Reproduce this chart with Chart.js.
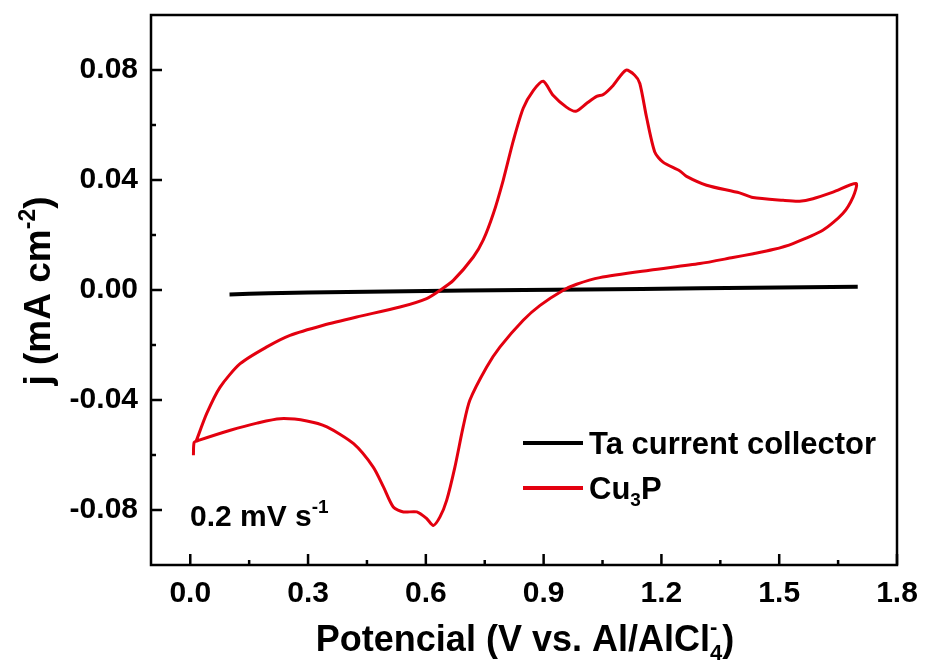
<!DOCTYPE html>
<html>
<head>
<meta charset="utf-8">
<script src="https://cdn.jsdelivr.net/npm/chart.js@4.4.1/dist/chart.umd.min.js"></script>
<style>
  html, body { margin: 0; background: #fff; }
  #wrap { width: 925px; height: 666px; }
</style>
</head>
<body>
<div id="wrap"><canvas id="cv" width="925" height="666"></canvas></div>
<script>
// Cu3P cyclic voltammogram (anodic sweep then cathodic sweep)
const cu3pV = [
  0.015, 0.042, 0.076, 0.127, 0.195, 0.254, 0.339, 0.424, 0.534, 0.602, 0.636, 0.670,
  0.721, 0.746, 0.772, 0.797, 0.823, 0.848, 0.874, 0.899, 0.924, 0.958, 0.982, 1.009,
  1.035, 1.052, 1.077, 1.109, 1.132, 1.145, 1.162, 1.183, 1.204, 1.247, 1.264, 1.315,
  1.399, 1.433, 1.510, 1.552, 1.586, 1.637, 1.696,
  1.688, 1.662, 1.611, 1.535, 1.484, 1.434, 1.382, 1.298, 1.170, 1.043, 0.984, 0.950,
  0.891, 0.848, 0.789, 0.755, 0.712, 0.695, 0.674, 0.653, 0.636, 0.619, 0.602, 0.577,
  0.543, 0.517, 0.492, 0.466, 0.416, 0.348, 0.297, 0.229, 0.170, 0.102, 0.021, 0.010, 0.008
];
const cu3pJ = [
  -0.0550, -0.0449, -0.0353, -0.0268, -0.0207, -0.0165, -0.0128, -0.0098, -0.0062, -0.0031, -0.0001, 0.0035,
  0.0120, 0.0181, 0.0278, 0.0399, 0.0544, 0.0661, 0.0726, 0.0759, 0.0708, 0.0665, 0.0650, 0.0678,
  0.0704, 0.0711, 0.0744, 0.0799, 0.0781, 0.0751, 0.0629, 0.0502, 0.0465, 0.0433, 0.0413, 0.0381,
  0.0353, 0.0336, 0.0326, 0.0323, 0.0332, 0.0356, 0.0387,
  0.0338, 0.0278, 0.0217, 0.0169, 0.0147, 0.0132, 0.0118, 0.0096, 0.0072, 0.0045, 0.0021, -0.0001,
  -0.0056, -0.0110, -0.0207, -0.0280, -0.0401, -0.0498, -0.0644, -0.0765, -0.0825, -0.0856, -0.0831, -0.0807,
  -0.0807, -0.0789, -0.0716, -0.0644, -0.0559, -0.0498, -0.0476, -0.0468, -0.0484, -0.0510, -0.0547, -0.0554, -0.0601
];

// bare Ta current collector
const taV = [0.10, 0.20, 0.40, 0.70, 1.00, 1.30, 1.70];
const taJ = [-0.0016, -0.0012, -0.0007, -0.0002, 0.0002, 0.0006, 0.0012];

const xTicks = [0.0, 0.3, 0.6, 0.9, 1.2, 1.5, 1.8];
const yTicks = [-0.08, -0.04, 0.00, 0.04, 0.08];

const FONT = '"Liberation Sans", Arial, sans-serif';
const RED = '#e3000f';

function toPoints(xs, ys) {
  return xs.map((x, i) => ({ x: x, y: ys[i] }));
}

// runs of text: [text, size, dy, advance]
function richWidth(ctx, runs) {
  let w = 0;
  runs.forEach(r => {
    ctx.font = 'bold ' + r[1] + 'px ' + FONT;
    r.w = ctx.measureText(r[0]).width;
    if (r[3] !== false) w += r.w;
  });
  return w;
}
function drawRich(ctx, runs, x, y, align) {
  const w = richWidth(ctx, runs);
  let cx = align === 'center' ? x - w / 2 : x;
  ctx.textAlign = 'left';
  ctx.textBaseline = 'alphabetic';
  runs.forEach(r => {
    ctx.font = 'bold ' + r[1] + 'px ' + FONT;
    ctx.fillText(r[0], cx, y + r[2]);
    if (r[3] !== false) cx += r.w;
  });
}

const decorations = {
  id: 'decorations',
  afterDraw(chart) {
    const { ctx, chartArea: a, scales } = chart;
    const xs = scales.x, ys = scales.y;
    ctx.save();
    ctx.fillStyle = '#000';
    ctx.strokeStyle = '#000';

    // frame
    ctx.lineWidth = 2.5;
    ctx.strokeRect(a.left, a.top, a.right - a.left, a.bottom - a.top);

    // inward ticks, major and minor
    ctx.beginPath();
    xTicks.forEach((v, i) => {
      const px = xs.getPixelForValue(v);
      ctx.moveTo(px, a.bottom); ctx.lineTo(px, a.bottom - 11);
      if (i < xTicks.length - 1) {
        const m = xs.getPixelForValue((v + xTicks[i + 1]) / 2);
        ctx.moveTo(m, a.bottom); ctx.lineTo(m, a.bottom - 5);
      }
    });
    yTicks.forEach((v, i) => {
      const py = ys.getPixelForValue(v);
      ctx.moveTo(a.left, py); ctx.lineTo(a.left + 11, py);
      if (i < yTicks.length - 1) {
        const m = ys.getPixelForValue((v + yTicks[i + 1]) / 2);
        ctx.moveTo(a.left, m); ctx.lineTo(a.left + 5, m);
      }
    });
    ctx.stroke();

    // axis titles
    drawRich(ctx, [
      ['Potencial (V vs. Al/AlCl', 36, 0],
      ['-', 22, -17, false],
      ['4', 22, 9],
      [')', 36, 0]
    ], 525, 651, 'center');

    ctx.save();
    ctx.translate(50, 291);
    ctx.rotate(-Math.PI / 2);
    drawRich(ctx, [
      ['j (mA cm', 37, 0],
      ['-2', 23, -15],
      [')', 37, 0]
    ], 0, 0, 'center');
    ctx.restore();

    // scan rate note
    drawRich(ctx, [
      ['0.2 mV s', 30, 0],
      ['-1', 19, -13]
    ], 190, 526, 'left');

    // legend
    ctx.lineWidth = 4;
    ctx.strokeStyle = '#000';
    ctx.beginPath(); ctx.moveTo(523, 443); ctx.lineTo(583, 443); ctx.stroke();
    ctx.strokeStyle = RED;
    ctx.beginPath(); ctx.moveTo(523, 488); ctx.lineTo(583, 488); ctx.stroke();
    drawRich(ctx, [['Ta current collector', 31, 0]], 589, 454, 'left');
    drawRich(ctx, [
      ['Cu', 31, 0],
      ['3', 19, 7],
      ['P', 31, 0]
    ], 589, 499, 'left');

    ctx.restore();
  }
};

new Chart(document.getElementById('cv'), {
  type: 'scatter',
  data: {
    datasets: [
      {
        label: 'Cu3P',
        data: toPoints(cu3pV, cu3pJ),
        showLine: true,
        borderColor: RED,
        borderWidth: 3,
        pointRadius: 0,
        tension: 0.25,
        fill: false
      },
      {
        label: 'Ta current collector',
        data: toPoints(taV, taJ),
        showLine: true,
        borderColor: '#000',
        borderWidth: 4,
        pointRadius: 0,
        tension: 0.3,
        fill: false
      }
    ]
  },
  options: {
    responsive: false,
    animation: false,
    devicePixelRatio: 1,
    layout: { padding: { top: 15, right: 28, left: 0, bottom: 0 } },
    plugins: {
      legend: { display: false },
      tooltip: { enabled: false }
    },
    scales: {
      x: {
        type: 'linear',
        min: -0.1,
        max: 1.8,
        afterBuildTicks: s => { s.ticks = xTicks.map(v => ({ value: v })); },
        afterFit: s => { s.height = 101; s.paddingLeft = 0; s.paddingRight = 0; },
        grid: { display: false, drawTicks: false },
        border: { display: false },
        ticks: {
          color: '#000',
          padding: 11,
          maxRotation: 0,
          font: { family: FONT, size: 30, weight: 'bold' },
          callback: v => v.toFixed(1)
        }
      },
      y: {
        type: 'linear',
        min: -0.1,
        max: 0.1,
        afterBuildTicks: s => { s.ticks = yTicks.map(v => ({ value: v })); },
        afterFit: s => { s.width = 151; s.paddingTop = 0; s.paddingBottom = 0; },
        grid: { display: false, drawTicks: false },
        border: { display: false },
        ticks: {
          color: '#000',
          padding: 13,
          font: { family: FONT, size: 30, weight: 'bold' },
          callback: v => v.toFixed(2)
        }
      }
    }
  },
  plugins: [decorations]
});
</script>
</body>
</html>
